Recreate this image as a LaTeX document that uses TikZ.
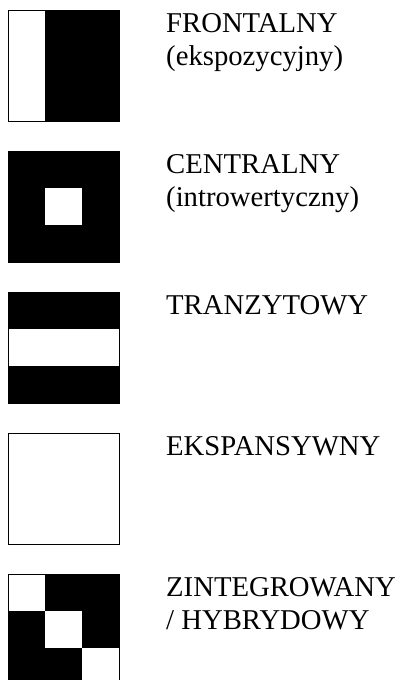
\documentclass[tikz,border=0pt]{standalone}
\usepackage{fontspec}
\setmainfont{Liberation Serif}

\begin{document}
\begin{tikzpicture}[x=1pt,y=-1pt]

% ----- Parameters -----
\def\cell{37}   % side of one cell
\def\gap{141}   % vertical step between squares

\tikzset{
  typelabel/.style={anchor=north west, inner sep=0pt, align=left,
    font=\fontsize{28.7}{33}\selectfont}
}

\useasboundingbox (0,0) rectangle (410,680);

% ----- Black cells -----
\foreach \k/\cells in {
    0/{0/1,0/2,1/1,1/2,2/1,2/2},
    1/{0/0,0/1,0/2,1/0,1/2,2/0,2/1,2/2},
    2/{0/0,0/1,0/2,2/0,2/1,2/2},
    4/{0/1,0/2,1/0,1/2,2/0,2/1}} {
  \foreach \r/\c in \cells {
    \fill ({8+\c*\cell},{10+\k*\gap+\r*\cell}) rectangle ++(\cell,\cell);
  }
}

% ----- Outlines -----
\foreach \k in {0,...,4} {
  \draw[line width=0.8pt] (8,{10+\k*\gap}) rectangle ++(111,111);
}

% ----- Labels -----
\foreach \k/\txt in {
    0/{FRONTALNY\\(ekspozycyjny)},
    1/{CENTRALNY\\(introwertyczny)},
    2/{TRANZYTOWY},
    3/{EKSPANSYWNY},
    4/{ZINTEGROWANY\\/ HYBRYDOWY}} {
  \node[typelabel] (t\k) at (166,{13+\k*\gap}) {\txt};
}

\end{tikzpicture}
\end{document}
